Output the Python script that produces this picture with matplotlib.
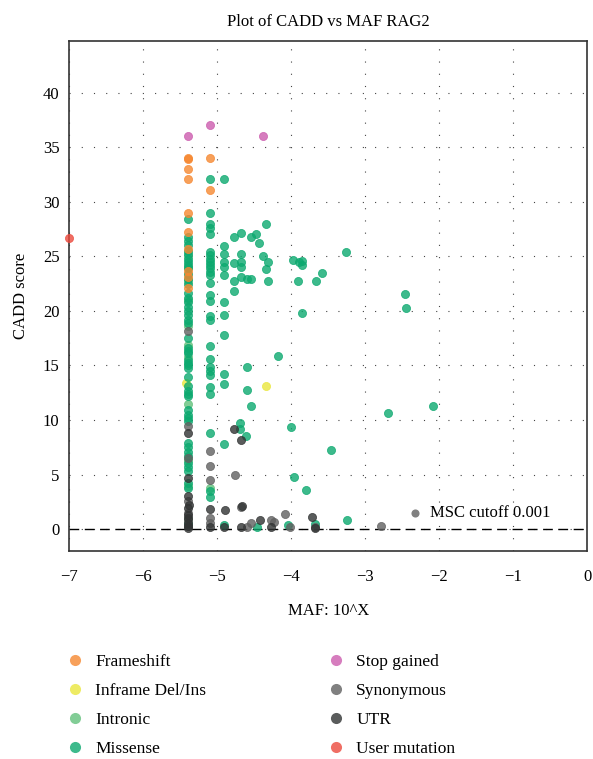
import numpy as np
import matplotlib
matplotlib.use("Agg")
import matplotlib.pyplot as plt
from matplotlib.lines import Line2D

plt.rcParams['font.family'] = ['Liberation Serif', 'DejaVu Serif']

# data: (MAF as log10, CADD score) per consequence type
frameshift = [(-5.4, 34.05), (-5.4, 33.9), (-5.4, 33.04), (-5.4, 32.07), (-5.4, 28.96),
              (-5.4, 27.24), (-5.4, 25.66), (-5.4, 23.64), (-5.4, 23.15), (-5.4, 22.1),
              (-5.1, 34.05), (-5.1, 31.09)]

inframe = [(-5.42, 13.4), (-4.34, 13.1)]

intronic = [(-5.4, 25.0), (-5.4, 24.0), (-5.4, 22.7), (-5.4, 21.0), (-5.4, 18.6),
            (-5.4, 16.9), (-5.4, 15.8), (-5.4, 11.5), (-5.4, 6.3), (-5.4, 4.0),
            (-5.4, 0.9), (-5.1, 3.8)]

missense_colA = [28.4, 26.8, 26.4, 26.0, 25.5, 25.2, 24.8, 24.5, 24.2, 23.9, 23.4, 22.9,
                 22.5, 21.6, 21.2, 20.8, 20.4, 20.0, 19.6, 19.2, 18.9, 17.5, 16.6, 16.3,
                 16.1, 15.5, 15.2, 15.0, 14.8, 13.9, 13.1, 12.7, 12.4, 12.2, 10.9, 10.5,
                 10.2, 9.9, 7.9, 7.5, 7.1, 6.7, 6.1, 5.7, 5.3, 4.2, 3.8, 0.5]
missense_colB = [32.1, 29.0, 28.0, 27.6, 27.0, 25.4, 25.1, 24.8, 24.5, 24.2, 23.9, 23.6,
                 23.3, 22.6, 21.5, 20.9, 19.5, 19.2, 16.8, 15.6, 14.9, 14.5, 14.1, 13.0,
                 12.4, 8.8, 3.5, 2.95]
missense_colC = [32.1, 25.9, 25.2, 24.5, 24.0, 23.3, 20.8, 19.6, 17.8, 14.2, 13.3, 7.8, 0.4]
missense_other = [(-4.78, 26.76), (-4.68, 27.18), (-4.54, 26.76), (-4.48, 27.0), (-4.43, 26.2),
                  (-4.34, 27.98), (-4.78, 24.43), (-4.68, 25.2), (-4.68, 24.5), (-4.68, 23.98),
                  (-4.68, 23.15), (-4.6, 22.9), (-4.54, 22.9), (-4.38, 25.05), (-4.31, 24.47),
                  (-4.34, 23.83), (-4.31, 22.76), (-4.78, 22.7), (-4.78, 21.78), (-3.98, 24.7),
                  (-3.9, 24.5), (-3.85, 24.55), (-3.86, 24.2), (-3.91, 22.76), (-3.66, 22.76),
                  (-3.585, 23.46), (-3.265, 25.38), (-3.86, 19.8), (-2.47, 21.54), (-2.45, 20.28),
                  (-4.18, 15.83), (-4.6, 14.82), (-4.6, 12.77), (-4.54, 11.25), (-2.70, 10.64),
                  (-2.09, 11.31), (-3.46, 7.22), (-3.8, 3.62), (-3.97, 4.74), (-4.0, 9.36),
                  (-4.69, 9.72), (-4.69, 9.17), (-4.61, 8.5), (-3.25, 0.81), (-3.68, 0.45),
                  (-4.46, 0.2), (-4.04, 0.4)]

stop_gained = [(-5.4, 36.0), (-5.1, 37.07), (-4.38, 36.0)]

synonymous = [(-5.4, 18.2), (-5.4, 9.41), (-5.4, 6.52), (-5.4, 2.6), (-5.4, 1.5), (-5.4, 0.8),
              (-5.4, 0.3), (-5.1, 7.19), (-5.1, 5.81), (-5.1, 4.47), (-5.1, 1.03), (-5.1, 0.57),
              (-4.76, 4.99), (-4.68, 2.0), (-4.55, 0.57), (-4.27, 0.87), (-4.23, 0.7),
              (-4.08, 1.4), (-4.02, 0.2), (-3.68, 0.2), (-2.79, 0.26), (-4.6, 0.2)]

utr = [(-5.4, 8.8), (-5.4, 4.69), (-5.4, 3.07), (-5.38, 2.24), (-5.4, 1.9), (-5.4, 1.33),
       (-5.4, 1.0), (-5.4, 0.6), (-5.4, 0.26), (-5.4, 0.1), (-5.1, 1.85), (-5.1, 0.2),
       (-4.9, 1.72), (-4.91, 0.2), (-4.78, 9.17), (-4.68, 8.2), (-4.67, 2.09), (-4.42, 0.87),
       (-4.27, 0.17), (-4.68, 0.2), (-3.72, 1.12), (-3.68, 0.15)]

user_mutation = [(-7.0, 26.67)]

msc_cutoff = (-2.33, 1.45)

missense = ([(-5.4, v) for v in missense_colA] + [(-5.1, v) for v in missense_colB]
            + [(-4.91, v) for v in missense_colC] + missense_other)

categories = {
    'Frameshift': (frameshift, '#F68831'),
    'Inframe Del/Ins': (inframe, '#EAE73D'),
    'Intronic': (intronic, '#63C17C'),
    'Missense': (missense, '#0CA96F'),
    'Stop gained': (stop_gained, '#CC5CAE'),
    'Synonymous': (synonymous, '#606060'),
    'UTR': (utr, '#313333'),
    'User mutation': (user_mutation, '#EC4A3D'),
}
draw_order = ['Inframe Del/Ins', 'Intronic', 'Missense', 'Frameshift', 'Synonymous',
              'UTR', 'Stop gained', 'User mutation']

fig = plt.figure(figsize=(5.93, 7.59), dpi=100)
ax = fig.add_axes([0.1169, 0.274, 0.8735, 0.6716])

for name in draw_order:
    pts, col = categories[name]
    arr = np.array(pts)
    ax.scatter(arr[:, 0], arr[:, 1], s=34, color=col, alpha=0.8, linewidths=0.6,
               edgecolors=col, zorder=3, clip_on=False)

ax.axhline(0, color='black', lw=1.0, linestyle=(0, (7, 4)), zorder=2)
ax.scatter([msc_cutoff[0]], [msc_cutoff[1]], s=34, color='#606060', alpha=0.8,
           linewidths=0, zorder=3)
ax.text(-2.13, 1.5, 'MSC cutoff 0.001', fontsize=12, va='center', ha='left')

ax.set_xlim(-7, 0)
ax.set_ylim(-2, 44.7)
ax.set_xticks(np.arange(-7, 1, 1))
ax.set_yticks(np.arange(0, 45, 5))
ax.set_xticklabels(['\u22127', '\u22126', '\u22125', '\u22124', '\u22123', '\u22122', '\u22121', '0'])
ax.tick_params(length=0, labelsize=12)
ax.tick_params(axis='x', pad=13)
ax.tick_params(axis='y', pad=7)
ax.grid(True, linestyle=(0, (1, 10)), lw=0.8, color='#444444', zorder=1)
for sp in ax.spines.values():
    sp.set_color('#333333')
    sp.set_linewidth(1.2)

ax.set_title('Plot of CADD vs MAF RAG2', fontsize=12, pad=11)
ax.set_xlabel('MAF: 10^X', fontsize=12, labelpad=13)
ax.set_ylabel('CADD score', fontsize=12, labelpad=10)

def handle(col):
    return Line2D([], [], marker='o', linestyle='none', markersize=8, color=col, alpha=0.8,
                  markeredgewidth=0)

names = list(categories.keys())
for i, x0 in enumerate([0.1125, 0.5525]):
    group = names[i * 4:(i + 1) * 4]
    fig.legend([handle(categories[n][1]) for n in group], group, loc='upper left',
               bbox_to_anchor=(x0, 0.1383), frameon=False, fontsize=12.5,
               handlelength=1.0, handletextpad=0.65, borderpad=0, borderaxespad=0,
               labelspacing=0.74)

fig.savefig('out.png', dpi=100)
